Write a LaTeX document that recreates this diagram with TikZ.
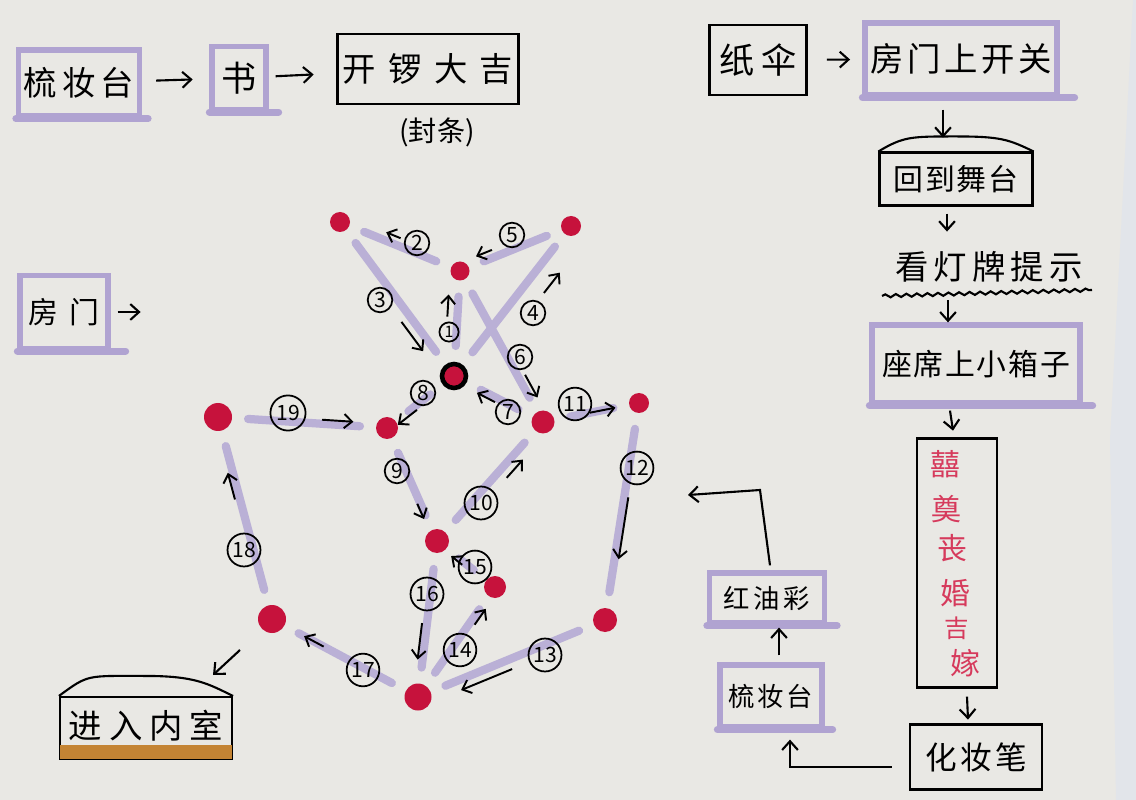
\documentclass[tikz,border=0pt]{standalone}
\usepackage{fontspec}
\setmainfont{Noto Sans CJK SC}
\usetikzlibrary{arrows.meta,calc,decorations.pathmorphing}
\definecolor{paper}{RGB}{233,232,228}
\definecolor{edgepaper}{RGB}{226,229,234}
\definecolor{lav}{RGB}{176,163,209}
\definecolor{glav}{RGB}{186,176,214}
\definecolor{crim}{RGB}{198,18,60}
\definecolor{redink}{RGB}{214,58,92}
\definecolor{orng}{RGB}{196,132,52}
\newcommand\myfs[1]{\fontsize{#1}{#1}\selectfont}
\newcommand\dirarr[5]{\draw[darr] ($(#1)!#3!(#2)!#5!90:(#2)$) -- ($(#1)!#4!(#2)!#5!90:(#2)$);}
\newcommand\gedge[2]{\draw[gline] (#1) -- (#2);}
\begin{document}
\begin{tikzpicture}[x=0.02cm,y=-0.02cm,
 pen/.style={line width=1.2pt,draw=black},
 arr/.style={pen,-{Straight Barb[length=5pt,width=9pt]}},
 darr/.style={line width=1.1pt,-{Straight Barb[length=4.5pt,width=8pt]}},
 sz/.style 2 args={minimum width=#1*0.02cm,minimum height=#2*0.02cm},
 lbox/.style={draw=lav,line width=3pt,inner sep=0pt},
 kbox/.style={draw=black,line width=1.2pt,inner sep=0pt},
 lext/.style={draw=lav,line width=4pt,line cap=round},
 gline/.style={draw=glav,line width=4.7pt,line cap=round,shorten <=9pt,shorten >=9pt},
 dot/.style={circle,fill=crim,inner sep=0pt,minimum size=#1*0.02cm},
 num/.style={circle,draw=black,line width=1pt,inner sep=1pt,minimum size=14pt,font=\myfs{12}},
 rch/.style={text=redink,font=\myfs{17},inner sep=0pt},
]
\fill[paper] (0,0) rectangle (1136,800);
\fill[edgepaper] (1133,0) -- (1110,440) -- (1116,800) -- (1136,800) -- (1136,0) -- cycle;
\useasboundingbox (0,0) rectangle (1136,800);

% ---------- top left ----------
\node[lbox,sz={121}{66},font=\myfs{19}] (tl1) at (79,83) {梳\hspace{3pt}妆\hspace{3pt}台};
\draw[lext] (tl1.south west) -- ([shift={(6,0)}]tl1.south east);
\node[lbox,sz={54}{63},font=\myfs{20}] (tl2) at (239,78) {书};
\draw[lext] (tl2.south west) -- ([shift={(10,0)}]tl2.south east);
\node[kbox,sz={181}{70},font=\myfs{19}] (tl3) at (428,69) {开\hspace{7pt}锣\hspace{7pt}大\hspace{7pt}吉};
\node[font=\myfs{16}] (fengtiao) at (437,132) {(封条)};
\draw[arr,shorten <=8pt,shorten >=9.5pt] (tl1) -- (tl2);
\draw[arr,shorten <=4pt,shorten >=13pt] (tl2) -- (tl3);

% ---------- top right ----------
\node[kbox,sz={97}{70},font=\myfs{20}] (zs) at (758,60) {纸\hspace{4pt}伞};
\node[lbox,sz={192}{72},font=\myfs{19}] (fmk) at (961,59) {房\hspace{2pt}门\hspace{2pt}上\hspace{2pt}开\hspace{2pt}关};
\draw[lext] (fmk.south west) -- ([shift={(15,0)}]fmk.south east);
\draw[arr,shorten <=11pt,shorten >=7pt] (zs) -- (fmk);

\node[kbox,sz={153}{53},font=\myfs{17}] (hui) at (956,179) {回\hspace{1pt}到\hspace{1pt}舞\hspace{1pt}台};
\draw[pen] (hui.north west) .. controls +(25,-15) and +(-45,0) .. ([shift={(0,-15)}]hui.north)
  .. controls +(45,0) and +(-25,-12) .. (hui.north east);
\draw[arr] ([shift={(-18,12)}]fmk.south) -- ([shift={(-18,40)}]fmk.south);

\node[font=\myfs{19}] (kdp) at (989,267) {看\hspace{3pt}灯\hspace{3pt}牌\hspace{3pt}提\hspace{3pt}示};
\coordinate (w1) at (882,296);
\coordinate (w2) at (1092,290);
\draw[pen,decorate,decoration={snake,amplitude=0.9pt,segment length=6pt}] (w1) -- (w2);
\draw[arr] ([shift={(-9,7)}]hui.south) -- ([shift={(-9,25)}]hui.south);

\node[lbox,sz={208}{78},font=\myfs{17}] (zx) at (976,364) {座\hspace{1pt}席\hspace{1pt}上\hspace{1pt}小\hspace{1pt}箱\hspace{1pt}子};
\draw[lext] (zx.south west) -- ([shift={(10,0)}]zx.south east);
\draw[arr] ([shift={(-28,-22)}]zx.north) -- ([shift={(-28,0)}]zx.north);
\draw[arr] ([shift={(-26,5)}]zx.south) -- ([shift={(-23,25)}]zx.south);

\node[kbox,sz={80}{249}] (rb) at (957,563) {};
\node[rch] (r1) at (945,464) {囍};
\node[rch] (r2) at (946,509) {奠};
\node[rch] (r3) at (952,548) {丧};
\node[rch] (r4) at (955,593) {婚};
\node[rch,font=\myfs{14}] (r5) at (957,628) {吉};
\node[rch] (r6) at (965,663) {嫁};
\draw[arr] ([shift={(10,8)}]rb.south) -- ([shift={(11,31)}]rb.south);

\node[kbox,sz={132}{65},font=\myfs{18}] (hzb) at (976,757) {化\hspace{2pt}妆\hspace{2pt}笔};

% ---------- bottom middle ----------
\node[lbox,sz={102}{62},font=\myfs{15}] (sz2) at (771,696) {梳\hspace{1.5pt}妆\hspace{1.5pt}台};
\draw[lext] (sz2.south west) -- ([shift={(8,0)}]sz2.south east);
\node[lbox,sz={115}{50},font=\myfs{15}] (hyc) at (767,598) {红\hspace{2pt}油\hspace{2pt}彩};
\draw[lext] (hyc.south west) -- ([shift={(10,0)}]hyc.south east);
\draw[arr] ([shift={(-17,10)}]hzb.west) -| ([shift={(19,10)}]sz2.south);
\draw[arr] ([shift={(8,-7)}]sz2.north) -- ([shift={(12,2)}]hyc.south);
\coordinate (up1) at (760,490);
\coordinate (up2) at (688,495);
\draw[arr] ([shift={(3,-5)}]hyc.north) -- (up1) -- (up2);

% ---------- left ----------
\node[lbox,sz={88}{73},font=\myfs{17}] (fm) at (64,312) {房\hspace{6pt}门};
\draw[lext] (fm.south west) -- ([shift={(15,0)}]fm.south east);
\draw[arr] ([shift={(7,0)}]fm.east) -- ([shift={(30,0)}]fm.east);

\node[kbox,sz={172}{62}] (jin) at (146,728) {};
\fill[orng] ([shift={(1,-15)}]jin.south west) rectangle ([shift={(-1,-1)}]jin.south east);
\node[font=\myfs{19}] (jintext) at (146,726) {进\hspace{4pt}入\hspace{4pt}内\hspace{4pt}室};
\draw[pen] (jin.north west) .. controls +(30,-22) and +(-60,0) .. ([shift={(0,-20)}]jin.north)
  .. controls +(50,0) and +(-25,-12) .. (jin.north east);
\coordinate (jarr) at (240,650);
\draw[arr] (jarr) -- ++(-27,25);

% ---------- graph ----------
\node[dot=20] (A) at (340,222) {};
\node[dot=19] (B) at (460,271) {};
\node[dot=20] (C) at (571,226) {};
\node[circle,fill=crim,draw=black,line width=2.6pt,minimum size=24*0.02cm,inner sep=0pt] (S) at (454,376) {};
\node[dot=22] (D) at (387,428) {};
\node[dot=23] (E) at (543,422) {};
\node[dot=20] (F) at (639,403) {};
\node[dot=28] (G) at (218,417) {};
\node[dot=24] (H) at (437,541) {};
\node[dot=22] (I) at (495,587) {};
\node[dot=24] (J) at (605,620) {};
\node[dot=27] (K) at (418,697) {};
\node[dot=28] (L) at (272,619) {};

\gedge{S}{B}\gedge{B}{A}\gedge{A}{S}\gedge{S}{C}\gedge{C}{B}\gedge{B}{E}
\gedge{E}{S}\gedge{S}{D}\gedge{D}{H}\gedge{H}{E}\gedge{E}{F}\gedge{F}{J}
\gedge{J}{K}\gedge{K}{I}\gedge{I}{H}\gedge{H}{K}\gedge{K}{L}\gedge{L}{G}\gedge{G}{D}

\dirarr{S}{B}{0.56}{0.77}{5.7pt}
\dirarr{B}{A}{0.52}{0.64}{-4.5pt}
\dirarr{A}{S}{0.61}{0.80}{-5.7pt}
\dirarr{S}{C}{0.635}{0.77}{-11.3pt}
\dirarr{C}{B}{0.687}{0.83}{-4.3pt}
\dirarr{B}{E}{0.71}{0.86}{4pt}
\dirarr{E}{S}{0.517}{0.72}{2.5pt}
\dirarr{S}{D}{0.59}{0.876}{2.3pt}
\dirarr{D}{H}{0.66}{0.795}{-1.7pt}
\dirarr{H}{E}{0.587}{0.74}{-5.7pt}
\dirarr{E}{F}{0.49}{0.755}{0pt}
\dirarr{F}{J}{0.432}{0.717}{2.3pt}
\dirarr{J}{K}{0.517}{0.79}{5.7pt}
\dirarr{K}{I}{0.683}{0.827}{-2.8pt}
\dirarr{I}{H}{0.534}{0.724}{1.7pt}
\dirarr{H}{K}{0.53}{0.764}{-2.8pt}
\dirarr{K}{L}{0.646}{0.78}{0pt}
\dirarr{L}{G}{0.598}{0.73}{2.8pt}
\dirarr{G}{D}{0.614}{0.80}{2.3pt}

\node[num,minimum size=9pt,font=\myfs{9}] (n1) at (449,332) {1};
\node[num] (n2) at (417,243) {2};
\node[num] (n3) at (380,300) {3};
\node[num] (n4) at (533,313) {4};
\node[num] (n5) at (512,235) {5};
\node[num] (n6) at (520,357) {6};
\node[num] (n7) at (508,412) {7};
\node[num] (n8) at (423,393) {8};
\node[num] (n9) at (397,471) {9};
\node[num] (n10) at (481,503) {10};
\node[num] (n11) at (575,404) {11};
\node[num] (n12) at (637,468) {12};
\node[num,minimum size=18pt] (n13) at (545,655) {13};
\node[num] (n14) at (460,650) {14};
\node[num] (n15) at (475,567) {15};
\node[num] (n16) at (427,594) {16};
\node[num,minimum size=18pt] (n17) at (363,670) {17};
\node[num,minimum size=17pt] (n18) at (244,550) {18};
\node[num,minimum size=20pt] (n19) at (288,413) {19};
\end{tikzpicture}
\end{document}
